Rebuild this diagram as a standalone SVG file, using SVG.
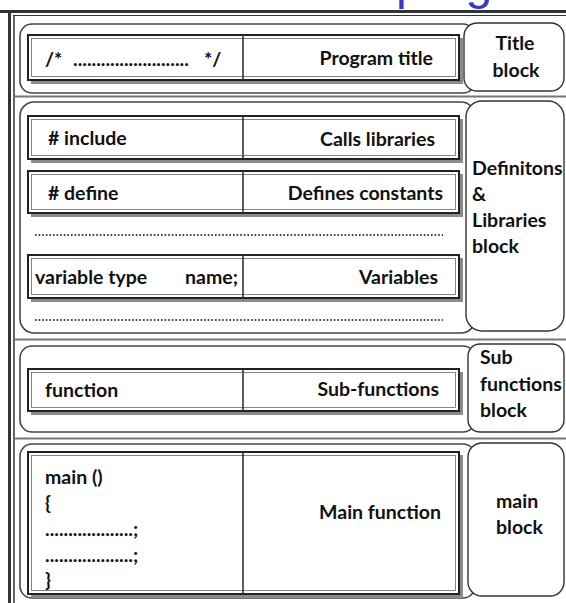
<svg xmlns="http://www.w3.org/2000/svg" width="566" height="603" viewBox="0 0 566 603">
<defs>
<style>
.frame{stroke:#333;fill:none}
.div{stroke:#777;stroke-width:2;fill:none}
.sec{fill:none;stroke:#444;stroke-width:1.6}
.lab{fill:#fff;stroke:#333;stroke-width:1.4}
.shadow{fill:#8a8a8a}
.row{fill:#fff;stroke:#222;stroke-width:2}
.rowin{fill:none;stroke:#666;stroke-width:0.8}
.col{stroke:#333;stroke-width:1.6}
.dots{stroke:#444;stroke-width:2;stroke-dasharray:1.6 2}
text{font-family:Lato,"Liberation Sans",Arial,sans-serif;font-weight:bold;font-size:19.5px;fill:#111}
.r{text-anchor:end}
.c{text-anchor:middle}
</style>
</defs>
<rect width="566" height="603" fill="#fff"/>
<text x="396" y="-1" style="font-family:'Liberation Sans',Arial,sans-serif;font-weight:normal;font-size:48px;fill:#3838c8">program</text>
<g id="frame">
<line class="frame" x1="0" y1="11.5" x2="566" y2="11.5" stroke-width="3"/>
<line class="frame" x1="13" y1="15.5" x2="566" y2="15.5" stroke-width="1"/>
<line class="frame" x1="9.5" y1="10" x2="9.5" y2="603" stroke-width="3"/>
<line class="frame" x1="14" y1="15" x2="14" y2="603" stroke-width="1.5"/>
<line class="div" x1="14" y1="96.5" x2="566" y2="96.5"/>
<line class="div" x1="14" y1="339.5" x2="566" y2="339.5"/>
<line class="div" x1="14" y1="438.5" x2="566" y2="438.5"/>
</g>
<g id="title-section">
<rect class="sec" x="20" y="24" width="455" height="69" rx="12"/>
<rect class="shadow" x="31" y="38" width="432" height="46"/>
<rect class="row" x="28" y="35" width="431" height="45"/>
<rect class="rowin" x="31.5" y="38.5" width="424" height="38"/>
<line class="col" x1="243" y1="35" x2="243" y2="80"/>
<text x="45" y="66">/*</text>
<text x="73" y="66">.........................</text>
<text x="204" y="66">*/</text>
<text class="r" x="433" y="65">Program title</text>
</g>
<g id="title-block">
<rect class="lab" x="464" y="23" width="100" height="68" rx="13"/>
<text class="c" x="515" y="50">Title</text>
<text class="c" x="516" y="77">block</text>
</g>
<g id="definitions-section">
<rect class="sec" x="20" y="102" width="455" height="231" rx="14"/>
<rect class="shadow" x="31" y="119" width="432" height="44"/>
<rect class="row" x="28" y="116" width="431" height="43"/>
<rect class="rowin" x="31.5" y="119.5" width="424" height="36"/>
<line class="col" x1="243" y1="116" x2="243" y2="159"/>
<text x="48" y="145"># include</text>
<text class="r" x="435" y="146">Calls libraries</text>
<rect class="shadow" x="31" y="174" width="432" height="43"/>
<rect class="row" x="28" y="171" width="431" height="42"/>
<rect class="rowin" x="31.5" y="174.5" width="424" height="35"/>
<line class="col" x1="243" y1="171" x2="243" y2="213"/>
<text x="48" y="200"># define</text>
<text class="r" x="443" y="200">Defines constants</text>
<line class="dots" x1="35" y1="235" x2="443" y2="235"/>
<rect class="shadow" x="31" y="258" width="432" height="44"/>
<rect class="row" x="28" y="255" width="431" height="43"/>
<rect class="rowin" x="31.5" y="258.5" width="424" height="36"/>
<line class="col" x1="243" y1="255" x2="243" y2="298"/>
<text x="35" y="284">variable type</text>
<text class="r" x="238" y="284">name;</text>
<text class="r" x="438" y="284">Variables</text>
<line class="dots" x1="35" y1="320" x2="443" y2="320"/>
</g>
<g id="definitions-block">
<rect class="lab" x="466" y="101" width="98" height="230" rx="16"/>
<text x="472" y="175">Definitons</text>
<text x="472" y="201">&amp;</text>
<text x="472" y="227">Libraries</text>
<text x="472" y="253">block</text>
</g>
<g id="subfunctions-section">
<rect class="sec" x="20" y="346" width="455" height="86" rx="12"/>
<rect class="shadow" x="31" y="372" width="432" height="43"/>
<rect class="row" x="28" y="369" width="431" height="42"/>
<rect class="rowin" x="31.5" y="372.5" width="424" height="35"/>
<line class="col" x1="243" y1="369" x2="243" y2="411"/>
<text x="45" y="397">function</text>
<text class="r" x="439" y="396">Sub-functions</text>
</g>
<g id="subfunctions-block">
<rect class="lab" x="468" y="344" width="96" height="88" rx="12"/>
<text x="480" y="364">Sub</text>
<text x="480" y="391">functions</text>
<text x="480" y="417">block</text>
</g>
<g id="main-section">
<rect class="sec" x="20" y="444" width="455" height="154" rx="12"/>
<rect class="shadow" x="31" y="455" width="432" height="143"/>
<rect class="row" x="28" y="452" width="431" height="142"/>
<rect class="rowin" x="31.5" y="455.5" width="424" height="135"/>
<line class="col" x1="243" y1="452" x2="243" y2="594"/>
<text x="45" y="484">main ()</text>
<text x="45" y="510">{</text>
<text x="45" y="536">...................;</text>
<text x="45" y="562">...................;</text>
<text x="45" y="587">}</text>
<text class="r" x="441" y="519">Main function</text>
</g>
<g id="main-block">
<rect class="lab" x="468" y="443" width="96" height="153" rx="14"/>
<text x="496" y="508">main</text>
<text x="496" y="534">block</text>
</g>
</svg>
